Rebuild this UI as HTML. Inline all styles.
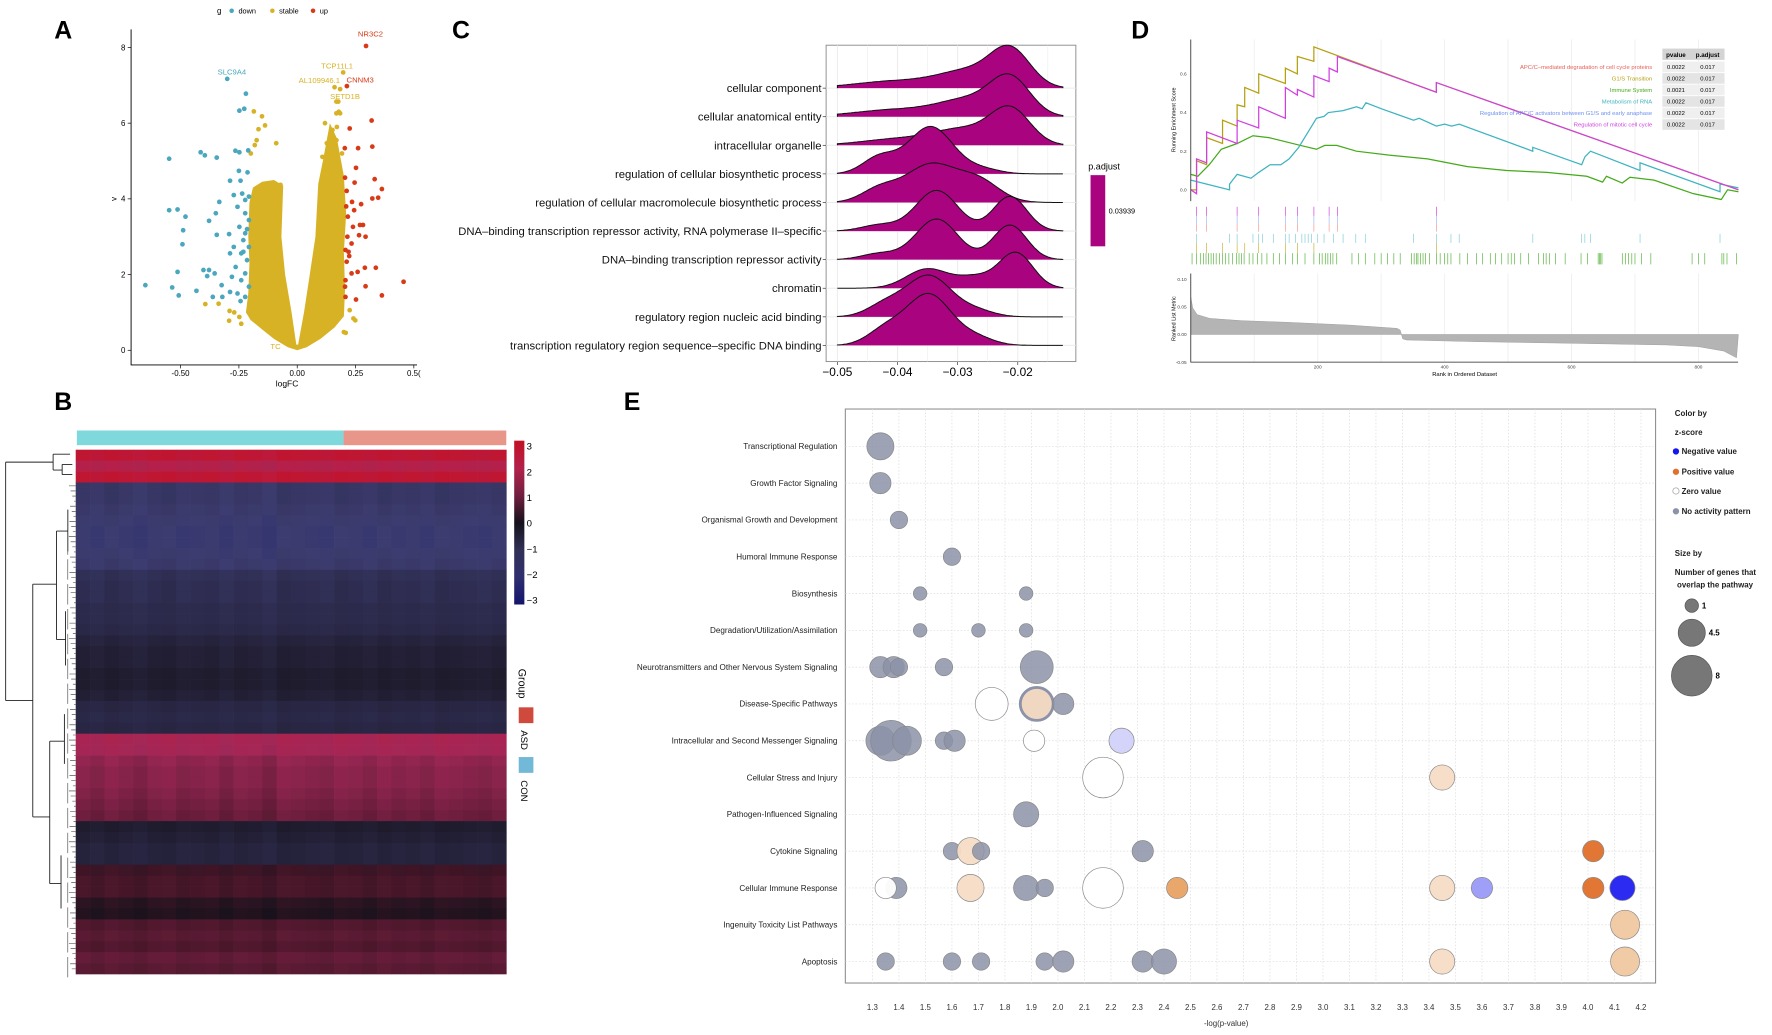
<!DOCTYPE html>
<html><head><meta charset="utf-8">
<style>
html,body{margin:0;padding:0;background:#fff;}
svg{display:block;font-family:"Liberation Sans",sans-serif;}
</style></head>
<body>
<svg id="fig" width="1772" height="1035" viewBox="0 0 1568 916" preserveAspectRatio="none" xmlns="http://www.w3.org/2000/svg">
<rect x="0" y="0" width="1568" height="916" fill="#fff"/>
<g font-weight="bold" font-size="22">
<text x="48" y="34">A</text>
<text x="400" y="34">C</text>
<text x="1001" y="34">D</text>
<text x="48" y="363">B</text>
<text x="552" y="363">E</text>
</g>
<g id="pA"></g>
<g id="pC"></g>
<g id="pD"></g>
<g id="pB"></g>
<g id="pE"></g>
</svg>
<script>
// ===== Panel A data =====
const downX=[-0.30,-0.22,-0.248,-0.227,-0.549,-0.414,-0.396,-0.345,-0.265,-0.248,-0.21,-0.25,-0.213,-0.288,-0.243,-0.549,-0.513,-0.479,-0.489,-0.492,-0.378,-0.334,-0.349,-0.345,-0.292,-0.513,-0.402,-0.378,-0.651,-0.536,-0.508,-0.432,-0.386,-0.354,-0.324,-0.288,-0.362,-0.321,-0.272,-0.236,-0.223,-0.207,-0.256,-0.223,-0.207,-0.248,-0.223,-0.231,-0.207,-0.240,-0.215,-0.264,-0.223,-0.240,-0.207,-0.256,-0.223,-0.288,-0.272,-0.280,-0.215,-0.231,-0.243];
const downY=[7.17,6.78,6.33,6.38,5.06,5.23,5.15,5.09,5.27,5.23,5.28,4.74,4.70,4.48,4.48,3.70,3.72,3.53,3.17,2.80,3.42,3.92,3.62,3.05,3.07,2.07,2.12,2.12,1.72,1.66,1.45,1.57,1.96,2.03,1.72,1.54,1.41,1.41,4.10,4.14,3.97,4.06,3.79,3.62,3.44,3.26,3.09,2.91,2.73,2.56,2.38,2.20,2.03,1.85,1.68,1.50,1.41,2.56,2.73,1.94,3.20,2.60,1.30];
const upX=[0.295,0.213,0.319,0.225,0.322,0.261,0.204,0.252,0.205,0.246,0.332,0.363,0.212,0.322,0.347,0.235,0.274,0.244,0.217,0.269,0.282,0.239,0.265,0.293,0.233,0.207,0.223,0.212,0.290,0.337,0.259,0.233,0.207,0.456,0.293,0.205,0.363,0.252,0.207,0.210,0.215,0.220];
const upY=[8.04,6.98,6.07,5.86,5.38,5.34,5.34,4.82,4.56,4.43,4.52,4.26,4.21,4.01,4.03,3.92,3.86,3.70,3.53,3.31,3.31,3.26,3.04,3.00,2.82,2.65,2.49,2.34,2.18,2.18,2.07,2.03,1.85,1.81,1.69,1.68,1.45,1.34,1.41,3.80,3.00,2.60];
const stableX=[-0.186,-0.151,-0.138,-0.166,-0.174,-0.182,-0.199,-0.09,-0.072,-0.394,-0.337,-0.29,-0.292,-0.248,0.119,0.168,0.184,0.168,0.176,0.16,0.184,0.197,0.151,0.127,0.168,0.192,0.225,0.241,0.249,0.2,0.208,0.108,0.151,0.15,0.17,0.178,-0.27,-0.24];
const stableY=[6.31,6.18,5.94,5.84,5.55,5.42,5.20,5.47,4.37,1.22,1.23,1.04,0.78,0.88,6.00,6.26,6.26,6.57,6.57,6.95,6.90,7.34,5.82,5.47,5.55,5.20,1.06,0.84,0.79,0.48,0.46,5.11,5.11,5.70,5.90,6.30,1.00,0.70];
// outline of dense "stable" mass (logFC, -log p)
const massX=[-0.06,-0.10,-0.15,-0.19,-0.205,-0.21,-0.205,-0.21,-0.22,-0.20,-0.15,-0.10,-0.04,0,0.04,0.10,0.16,0.20,0.205,0.20,0.21,0.20,0.17,0.14,0.11,0.09,0.078,0.054,0.029,0.004,-0.004,-0.024,-0.052,-0.068,-0.06];
const massY=[4.35,4.5,4.45,4.3,3.9,3.0,2.3,1.5,1.0,0.8,0.55,0.3,0.08,0,0.08,0.3,0.6,0.9,1.6,2.6,3.6,4.6,5.6,6.0,5.0,4.4,3.0,2.0,1.0,0.15,0.15,1.0,2.0,3.0,4.35];
const volcLabels=["NR3C2","TCP11L1","AL109946.1","CNNM3","SETD1B","SLC9A4","TC"];
const volcLabX=[0.314,0.171,0.095,0.27,0.205,-0.28,-0.093];
const volcLabY=[8.35,7.5,7.12,7.14,6.7,7.34,0.09];
const volcLabC=["#d93a16","#d8b225","#d8b225","#d93a16","#d8b225","#4aa7bd","#d8b225"];
const volcXTicks=[-0.5,-0.25,0,0.25,0.5];
const volcXTickLab=["-0.50","-0.25","0.00","0.25","0.5("];
const volcYTicks=[0,2,4,6,8];

// ===== Panel C data =====
const ridgeCats=["cellular component","cellular anatomical entity","intracellular organelle","regulation of cellular biosynthetic process","regulation of cellular macromolecule biosynthetic process","DNA\u2013binding transcription repressor activity, RNA polymerase II\u2013specific","DNA\u2013binding transcription repressor activity","chromatin","regulatory region nucleic acid binding","transcription regulatory region sequence\u2013specific DNA binding"];
const ridgeMu=[[-0.0212,-0.028,-0.04],[-0.0212,-0.028,-0.04],[-0.0212,-0.029,-0.04],[-0.0345,-0.043,-0.026],[-0.0345,-0.0265,-0.043],[-0.0335,-0.0213,-0.043],[-0.0335,-0.0213,-0.043],[-0.035,-0.0203,-0.027],[-0.0348,-0.042,-0.027],[-0.0348,-0.042,-0.027]];
const ridgeSd=[[0.0033,0.005,0.007],[0.0033,0.005,0.007],[0.0033,0.005,0.006],[0.0037,0.0028,0.003],[0.0042,0.0035,0.003],[0.0035,0.0028,0.003],[0.0035,0.0028,0.003],[0.0035,0.0028,0.003],[0.0037,0.003,0.003],[0.0037,0.003,0.003]];
const ridgeW=[[1,0.45,0.2],[1,0.45,0.2],[1,0.45,0.18],[1,0.35,0.1],[1,0.55,0.35],[1,0.85,0.15],[1,0.85,0.15],[0.55,1,0.3],[1,0.3,0.15],[1,0.3,0.15]];
const ridgePeak=[38,38,35,42,35,36,36,32,37,46];
const ridgeTicks=[-0.05,-0.04,-0.03,-0.02];
const ridgeTickLab=["\u22120.05","\u22120.04","\u22120.03","\u22120.02"];

// ===== Panel D data =====
const gseaNames=["APC/C\u2013mediated degradation of cell cycle proteins","G1/S Transition","Immune System","Metabolism of RNA","Regulation of APC/C activators between G1/S and early anaphase","Regulation of mitotic cell cycle"];
const gseaColors=["#e8605a","#b5a010","#44aa1a","#3fb3c0","#6f8ff0","#d040e0"];
const gseaP=["0.0022","0.0022","0.0021","0.0022","0.0022","0.0022"];
const gseaPadj=["0.017","0.017","0.017","0.017","0.017","0.017"];
const esYelR=[0,9,9,25,25,50,50,73,73,85,85,107,107,149,149,168,168,194,194,387,387,863];
const esYelV=[0,0,0.15,0.13,0.27,0.24,0.36,0.33,0.44,0.43,0.53,0.50,0.60,0.55,0.63,0.60,0.69,0.665,0.74,0.505,0.555,0.0];
const esMagR=[0,9,9,25,25,73,73,107,107,149,149,168,168,194,194,218,218,231,231,387,387,863];
const esMagV=[0,-0.02,0.16,0.14,0.30,0.24,0.36,0.32,0.43,0.37,0.53,0.49,0.52,0.48,0.59,0.56,0.63,0.61,0.69,0.505,0.555,0.0];
const esTealR=[0,61,61,73,95,107,125,142,155,170,185,198,210,217,240,261,270,276,300,351,360,387,400,411,423,539,539,616,621,630,708,708,834,834,863];
const esTealV=[0.05,0.0,0.03,0.08,0.06,0.09,0.13,0.13,0.16,0.22,0.30,0.37,0.38,0.40,0.41,0.43,0.42,0.45,0.42,0.36,0.37,0.33,0.34,0.33,0.34,0.20,0.22,0.13,0.17,0.20,0.10,0.14,-0.01,0.03,0.01];
const esGrnR=[0,11,29,48,73,98,123,173,198,211,230,261,311,373,436,498,561,624,649,655,680,692,730,792,836,846,863];
const esGrnV=[0.08,0.07,0.13,0.21,0.24,0.28,0.27,0.23,0.21,0.23,0.23,0.20,0.18,0.16,0.12,0.10,0.09,0.07,0.04,0.07,0.035,0.065,0.05,-0.02,-0.05,0.0,-0.01];
const rugApc=[9,25,73,107,149,168,194,218,231,387];
const rugTeal=[9,61,73,98,107,113,130,149,155,165,175,180,185,190,200,210,225,240,260,275,351,387,410,423,539,616,621,630,708,834];
const rugOlive=[9,25,50,73,85,107,149,168,194,387];
const rugGreen=[2,9,15,20,24,28,32,36,40,45,50,55,60,66,72,76,80,84,92,98,105,112,120,130,140,149,160,168,180,194,203,207,212,216,220,224,230,254,264,275,290,300,310,320,330,348,352,356,358,362,366,370,376,387,393,400,405,410,424,436,450,460,472,480,490,500,505,510,520,532,548,556,560,565,575,590,615,625,642,644,646,648,680,685,690,695,700,710,725,790,800,810,837,840,845,860];
const metricR=[0,3,10,30,80,150,250,325,330,334,340,450,600,750,800,840,860];
const metricV=[0.068,0.048,0.036,0.029,0.025,0.022,0.017,0.011,0.008,-0.008,-0.010,-0.013,-0.016,-0.019,-0.022,-0.030,-0.042];
const esTicks=[0,0.2,0.4,0.6];
const metTicks=[0.10,0.05,0.00,-0.05];
const rankTicks=[200,400,600,800];

// ===== Panel B data =====
const heatRowZ=[2.6,2.0,2.6,-1.3,-1.3,-1.4,-1.5,-1.6,-1.6,-1.5,-1.4,-1.0,-0.9,-0.9,-0.8,-0.8,-0.7,-0.5,-0.4,-0.4,-0.3,-0.3,-0.4,-0.6,-0.7,-0.6,1.7,1.6,1.3,1.2,1.2,1.1,1.0,0.9,-0.3,-0.4,-0.5,-0.5,0.4,0.5,0.5,0.2,0.1,0.6,0.7,0.6,0.8,0.7];
const heatColOff=[0.05,-0.05,0.1,0,-0.1,0.05,0.1,-0.05,0,0.05,-0.1,0.05,0,-0.15,0.1,0.05,0,-0.05,0.1,0.05,-0.05,0.1,0,0.05,-0.05,0.1,0.05,0,-0.05,0.05];
const heatTicks=[3,2,1,0,-1,-2,-3];

// ===== Panel E data =====
const eCats=["Transcriptional Regulation","Growth Factor Signaling","Organismal Growth and Development","Humoral Immune Response","Biosynthesis","Degradation/Utilization/Assimilation","Neurotransmitters and Other Nervous System Signaling","Disease-Specific Pathways","Intracellular and Second Messenger Signaling","Cellular Stress and Injury","Pathogen-Influenced Signaling","Cytokine Signaling","Cellular Immune Response","Ingenuity Toxicity List Pathways","Apoptosis"];
const bubRow=[0,1,2,3,4,4,5,5,5,6,6,6,6,6,7,7,7,8,8,8,8,8,8,8,9,9,10,11,11,11,11,11,12,12,12,12,12,12,12,12,12,12,12,13,14,14,14,14,14,14,14,14,14];
const bubX=[1.33,1.33,1.40,1.60,1.48,1.88,1.48,1.70,1.88,1.33,1.38,1.40,1.57,1.92,1.75,1.92,2.02,1.33,1.37,1.43,1.57,1.61,1.91,2.24,2.17,3.45,1.88,1.60,1.67,1.71,2.32,4.02,1.39,1.35,1.67,1.88,1.95,2.17,2.45,3.45,3.60,4.02,4.13,4.14,1.35,1.60,1.71,1.95,2.02,2.32,2.40,3.45,4.14];
const bubN=[4.5,3,2,2,1,1,1,1,1,3,3,2,2,6,6,6,3,5,8,5,2,3,3,4,8,4,4,2,4.5,2,3,3,3,3,4.5,4,2,8,3,4,3,3,4,5,2,2,2,2,3,3,4,4,5];
const bubType=["g","g","g","g","g","g","g","g","g","g","g","g","g","g","z","pr","g","g","g","g","g","g","z","nl","z","pl","g","g","pl","g","g","p","g","z","pl","g","g","z","pm","pl","nm","p","n","pl2","g","g","g","g","g","g","g","pl","pl2"];
const eTicks=[1.3,1.4,1.5,1.6,1.7,1.8,1.9,2.0,2.1,2.2,2.3,2.4,2.5,2.6,2.7,2.8,2.9,3.0,3.1,3.2,3.3,3.4,3.5,3.6,3.7,3.8,3.9,4.0,4.1,4.2];
const sizeLegN=[1,4.5,8];
</script>
<script>
const NS="http://www.w3.org/2000/svg";
function mk(parent,tag,attrs,txt){const e=document.createElementNS(NS,tag);for(const k in attrs)e.setAttribute(k,attrs[k]);if(txt!==undefined)e.textContent=txt;parent.appendChild(e);return e;}

// ---------- Panel A ----------
(function(){
const g=document.getElementById('pA');
const xA=v=>263+v*206.4, yA=v=>310-v*33.5;
// legend
let t=mk(g,'text',{x:192,y:12,'font-size':7});t.textContent='g';

const lg=[["down","#4aa7bd",205],["stable","#d8b225",241],["up","#d93a16",277]];
lg.forEach(l=>{const c=mk(g,'circle',{cx:l[2],cy:9.5,r:2,fill:l[1]});

const tx=mk(g,'text',{x:l[2]+6,y:12,'font-size':6.5},l[0]);
});
// dense mass
let d=massX.map((x,i)=>(i?'L':'M')+xA(x).toFixed(1)+','+yA(massY[i]).toFixed(1)).join('')+'Z';
let p=mk(g,'path',{d:d,fill:'#d8b225'});

const pts=(X,Y,col,nm)=>X.forEach((x,i)=>{const c=mk(g,'circle',{cx:xA(x),cy:yA(Y[i]),r:2.1,fill:col});
});
pts(stableX,stableY,'#d8b225','stable-point');
pts(downX,downY,'#4aa7bd','down-point');
pts(upX,upY,'#d93a16','up-point');
volcLabels.forEach((s,i)=>{const tx=mk(g,'text',{x:xA(volcLabX[i]),y:yA(volcLabY[i])+2,'font-size':6.8,'text-anchor':'middle',fill:volcLabC[i]},s);
});
// axes
let ax=mk(g,'path',{d:'M116,26V323H369',stroke:'#000','stroke-width':0.8,fill:'none'});

volcXTicks.forEach((v,i)=>{mk(g,'line',{x1:xA(v),x2:xA(v),y1:323,y2:326,stroke:'#000','stroke-width':0.6});
const tx=mk(g,'text',{x:xA(v),y:333,'font-size':7,'text-anchor':'middle'},volcXTickLab[i]);
});
volcYTicks.forEach(v=>{mk(g,'line',{x1:113,x2:116,y1:yA(v),y2:yA(v),stroke:'#000','stroke-width':0.6});
const tx=mk(g,'text',{x:111,y:yA(v)+2.5,'font-size':7,'text-anchor':'end'},String(v));
});
t=mk(g,'text',{x:254,y:342,'font-size':7.5,'text-anchor':'middle'},'logFC');

t=mk(g,'text',{x:103,y:176,'font-size':7,'text-anchor':'middle',transform:'rotate(-90 103 176)'},'v');

})();

// ---------- Panel C ----------
(function(){
const g=document.getElementById('pC');
const xC=v=>741+(v+0.05)*5320;
const base0=78, step=25.3;
let bx=mk(g,'rect',{x:731,y:40,width:221,height:280,fill:'#fff',stroke:'#888','stroke-width':0.8});

for(let v=-0.05;v<=-0.0119;v+=0.005){mk(g,'line',{x1:xC(v),x2:xC(v),y1:40,y2:320,stroke:'#ececec','stroke-width':v.toFixed(3)*1000%10===0?0.9:0.5});}
ridgeCats.forEach((c,i)=>{const y=base0+i*step;mk(g,'line',{x1:731,x2:952,y1:y,y2:y,stroke:'#ececec','stroke-width':0.9});});
ridgeCats.forEach((c,i)=>{
 const y0=base0+i*step;
 const dens=[];let mx=0;
 for(let k=0;k<=150;k++){const v=-0.05+k*(0.0375/150);let s=0;
  ridgeMu[i].forEach((m,j)=>{const sd=ridgeSd[i][j];s+=ridgeW[i][j]*Math.exp(-0.5*((v-m)/sd)**2);});
  dens.push([v,s]);if(s>mx)mx=s;}
 let d='M'+xC(-0.05)+','+y0;
 dens.forEach(q=>{d+='L'+xC(q[0]).toFixed(1)+','+(y0-q[1]/mx*ridgePeak[i]).toFixed(1);});
 d+='L'+xC(-0.0125)+','+y0;
 const f=mk(g,'path',{d:d+'Z',fill:'#aa037f',stroke:'none'});
 
 mk(g,'path',{d:d,fill:'none',stroke:'#111','stroke-width':0.9});
 mk(g,'line',{x1:728,x2:731,y1:y0,y2:y0,stroke:'#333','stroke-width':0.6});
 const tx=mk(g,'text',{x:727,y:y0+3.5,'font-size':10,'text-anchor':'end',fill:'#111'},c);
 
});
ridgeTicks.forEach((v,i)=>{mk(g,'line',{x1:xC(v),x2:xC(v),y1:320,y2:323,stroke:'#333','stroke-width':0.6});
const tx=mk(g,'text',{x:xC(v),y:333,'font-size':10.5,'text-anchor':'middle'},ridgeTickLab[i]);
});
let t=mk(g,'text',{x:963,y:150,'font-size':8},'p.adjust');

let r=mk(g,'rect',{x:965,y:155,width:13,height:63,fill:'#aa037f'});

t=mk(g,'text',{x:981,y:189,'font-size':6.5},'0.03939');

})();

// ---------- Panel D ----------
(function(){
const g=document.getElementById('pD');
const xD=r=>1053.7+r*0.5615, yE=v=>168-v*171, yM=v=>296-v*490;
[100,200,300,400,500,600,700,800].forEach(r=>{mk(g,'line',{x1:xD(r),x2:xD(r),y1:35,y2:178,stroke:'#efefef','stroke-width':0.8});mk(g,'line',{x1:xD(r),x2:xD(r),y1:242,y2:320,stroke:'#efefef','stroke-width':0.8});});
// metric area
let d='M'+xD(0)+','+yM(0);metricR.forEach((r,i)=>{d+='L'+xD(r).toFixed(1)+','+yM(metricV[i]).toFixed(1);});d+='L'+xD(863)+','+yM(0)+'Z';
let a=mk(g,'path',{d:d,fill:'#b4b4b4',stroke:'#9a9a9a','stroke-width':0.4});

const line=(R,V,col,nm)=>{const dd=R.map((r,i)=>(i?'L':'M')+xD(r).toFixed(1)+','+yE(V[i]).toFixed(1)).join('');
const p=mk(g,'path',{d:dd,fill:'none',stroke:col,'stroke-width':1.1});};
line(esGrnR,esGrnV,'#44aa1a','es-line-immune-system');
line(esTealR,esTealV,'#3fb3c0','es-line-metabolism-rna');
line(esYelR,esYelV,'#b5a010','es-line-g1s');
line(esMagR,esMagV,'#d040e0','es-line-mitotic');
const rug=(R,y1,y2,col,nm)=>R.forEach(r=>{const l=mk(g,'line',{x1:xD(r),x2:xD(r),y1:y1,y2:y2,stroke:col,'stroke-width':0.6});});
rug(rugApc,183,191,'#d040e0','rug-mitotic');
rug(rugApc,191,198,'#9ab8f5','rug-apc-activators');
rug(rugApc,198,205,'#f09890','rug-apc');
rug(rugTeal,207,215,'#7fcdd6','rug-rna');
rug(rugOlive,215,224,'#c8b040','rug-g1s');
rug(rugGreen,224,234,'#55b33a','rug-immune');
let ax=mk(g,'path',{d:'M1053.7,35V178M1053.7,242V320.5H1538',stroke:'#222','stroke-width':0.7,fill:'none'});

esTicks.forEach(v=>{const tx=mk(g,'text',{x:1050,y:yE(v)+1.5,'font-size':4.2,'text-anchor':'end',fill:'#444'},v.toFixed(1));});
metTicks.forEach(v=>{const tx=mk(g,'text',{x:1050,y:yM(v)+1.5,'font-size':4.2,'text-anchor':'end',fill:'#444'},v.toFixed(2));});
rankTicks.forEach(v=>{const tx=mk(g,'text',{x:xD(v),y:326,'font-size':4.2,'text-anchor':'middle',fill:'#444'},String(v));});
let t=mk(g,'text',{x:1296,y:333,'font-size':5.2,'text-anchor':'middle'},'Rank in Ordered Dataset');
t=mk(g,'text',{x:1040,y:106,'font-size':4.8,'text-anchor':'middle',transform:'rotate(-90 1040 106)'},'Running Enrichment Score');
t=mk(g,'text',{x:1040,y:282,'font-size':4.8,'text-anchor':'middle',transform:'rotate(-90 1040 282)'},'Ranked List Metric');
// table
let bg=mk(g,'rect',{x:1471,y:43,width:55,height:10,fill:'#d4d4d4'});
t=mk(g,'text',{x:1483,y:50.5,'font-size':5.5,'font-weight':'bold','text-anchor':'middle'},'pvalue');
t=mk(g,'text',{x:1511,y:50.5,'font-size':5.5,'font-weight':'bold','text-anchor':'middle'},'p.adjust');
gseaNames.forEach((n,i)=>{const y=59+i*10.2;
 const rr=mk(g,'rect',{x:1471,y:y-4.5,width:55,height:9.4,fill:i%2?'#e4e4e4':'#efefef'});
 const a1=mk(g,'text',{x:1462,y:y+2,'font-size':5.2,'text-anchor':'end',fill:gseaColors[i]},n);
 const a2=mk(g,'text',{x:1483,y:y+2,'font-size':5.2,'text-anchor':'middle'},gseaP[i]);
 const a3=mk(g,'text',{x:1511,y:y+2,'font-size':5.2,'text-anchor':'middle'},gseaPadj[i]);});
})();

// ---------- Panel B ----------
(function(){
const g=document.getElementById('pB');
function col(z){z=Math.max(-3,Math.min(3,z));
 const stops=[[-3,[20,20,110]],[-1.5,[60,60,112]],[-0.5,[38,36,62]],[0,[22,18,28]],[0.5,[70,22,40]],[1.5,[160,40,88]],[2.2,[185,30,70]],[3,[195,15,35]]];
 for(let i=0;i<stops.length-1;i++){const a=stops[i],b=stops[i+1];if(z<=b[0]){const t=(z-a[0])/(b[0]-a[0]);return 'rgb('+a[1].map((c,k)=>Math.round(c+(b[1][k]-c)*t)).join(',')+')';}}return 'rgb(195,15,35)';}
const x0=67,x1=448,y0=398,y1=862;const rh=(y1-y0)/heatRowZ.length,cw=(x1-x0)/heatColOff.length;
heatRowZ.forEach((z,i)=>heatColOff.forEach((o,j)=>{const r=mk(g,'rect',{x:(x0+j*cw).toFixed(2),y:(y0+i*rh).toFixed(2),width:(cw+0.3).toFixed(2),height:(rh+0.3).toFixed(2),fill:col(z+o*(Math.abs(z)>0.8?1:0.6))});
}));
let r=mk(g,'rect',{x:68,y:381,width:236,height:13,fill:'#7fd8dc'});
r=mk(g,'rect',{x:304,y:381,width:144,height:13,fill:'#e9968a'});
// colorbar
const cb=mk(g,'defs',{});const lgd=mk(cb,'linearGradient',{id:'hg',x1:0,y1:0,x2:0,y2:1});
[[0,3],[0.17,2],[0.33,1],[0.5,0],[0.67,-1],[0.83,-2],[1,-3]].forEach(s=>mk(lgd,'stop',{offset:s[0],'stop-color':col(s[1])}));
r=mk(g,'rect',{x:455,y:390,width:9,height:145,fill:'url(#hg)'});
heatTicks.forEach(v=>{const y=390+(3-v)/6*145*0.94+5;const t=mk(g,'text',{x:466,y:y+3,'font-size':8.5},(v<0?'\u2212':'')+Math.abs(v));});
let t=mk(g,'text',{x:459,y:605,'font-size':9.5,transform:'rotate(90 459 605)','text-anchor':'middle'},'Group');
r=mk(g,'rect',{x:459,y:626,width:13,height:14,fill:'#cf4a3c'});
t=mk(g,'text',{x:461,y:655,'font-size':8.5,transform:'rotate(90 461 655)','text-anchor':'middle'},'ASD');
r=mk(g,'rect',{x:459,y:670,width:13,height:14,fill:'#72b9d8'});
t=mk(g,'text',{x:461,y:700,'font-size':8.5,transform:'rotate(90 461 700)','text-anchor':'middle'},'CON');
// dendrogram
const dd='M5,409V620M5,409H47M47,402V416M47,402H62M47,416H55M55,411V420M55,411H64M55,420H64M5,620H29M29,517V723M29,517H50M50,470V566M50,470H60M60,451V488M50,566H58M58,541V589M29,723H44M44,656V782M44,656H57M57,632V676M44,782H54M54,757V804';
let dp=mk(g,'path',{d:dd,stroke:'#222','stroke-width':0.8,fill:'none'});
let lv='';for(let y=430;y<862;y+=4.5){lv+='M'+(61+((y*7)%5))+','+y+'H67';}
for(let y=451;y<862;y+=22){lv+='M60,'+y+'V'+(y+18);}
dp=mk(g,'path',{d:lv,stroke:'#333','stroke-width':0.5,fill:'none'});
})();

// ---------- Panel E ----------
(function(){
const g=document.getElementById('pE');
const xE=v=>772+(v-1.3)*234.5, yR=i=>395+i*32.57, rN=n=>6+(n-1)*1.714;
let bx=mk(g,'rect',{x:748,y:362,width:717,height:508,fill:'#fff',stroke:'#888','stroke-width':0.9});
eTicks.forEach(v=>{mk(g,'line',{x1:xE(v),x2:xE(v),y1:362,y2:870,stroke:'#ddd','stroke-width':0.6,'stroke-dasharray':'1.5,1.5'});
const t=mk(g,'text',{x:xE(v),y:894,'font-size':7,'text-anchor':'middle',fill:'#333'},v.toFixed(1));});
eCats.forEach((c,i)=>{mk(g,'line',{x1:748,x2:1465,y1:yR(i),y2:yR(i),stroke:'#ddd','stroke-width':0.6,'stroke-dasharray':'1.5,1.5'});
const t=mk(g,'text',{x:741,y:yR(i)+2.5,'font-size':7.2,'text-anchor':'end',fill:'#222'},c);});
const fills={g:'#8c93a8',z:'#ffffff',pl:'#f5dcc6',pl2:'#f0c8a0',pm:'#e9a264',p:'#e0702a',nl:'#d2d2fb',nm:'#9a9af8',n:'#2020f0',pr:'#eed5bf'};
bubX.forEach((x,i)=>{const ty=bubType[i];
 const c=mk(g,'circle',{cx:xE(x),cy:yR(bubRow[i]),r:rN(bubN[i]),fill:fills[ty],'fill-opacity':ty==='g'?0.85:0.95,stroke:ty==='pr'?'#8c93a8':'#888','stroke-width':ty==='pr'?2.5:0.6});
 });
let t=mk(g,'text',{x:1085,y:908,'font-size':7,'text-anchor':'middle',fill:'#333'},'-log(p-value)');
const L=[['Color by',1482,368,null],['z-score',1482,385,null],['Negative value',1488,402,'#1515f0'],['Positive value',1488,420,'#e0702a'],['Zero value',1488,437,'#fff'],['No activity pattern',1488,455,'#8c93a8'],['Size by',1482,492,null],['Number of genes that',1482,509,null],['overlap the pathway',1484,520,null]];
L.forEach(l=>{if(l[3]){const c=mk(g,'circle',{cx:1483,cy:l[2]-2.5,r:2.8,fill:l[3],stroke:l[3]==='#fff'?'#999':'none','stroke-width':0.6});}
 const tx=mk(g,'text',{x:l[1],y:l[2],'font-size':7,'font-weight':'bold',fill:'#222'},l[0]);});
const sy=[536,560,598];
sizeLegN.forEach((n,i)=>{const c=mk(g,'circle',{cx:1497,cy:sy[i],r:rN(n),fill:'#777',stroke:'#555','stroke-width':0.6});
const tx=mk(g,'text',{x:1497+rN(n)+3,y:sy[i]+2.5,'font-size':7,'font-weight':'bold'},String(n));});
})();
</script>
</body></html>
